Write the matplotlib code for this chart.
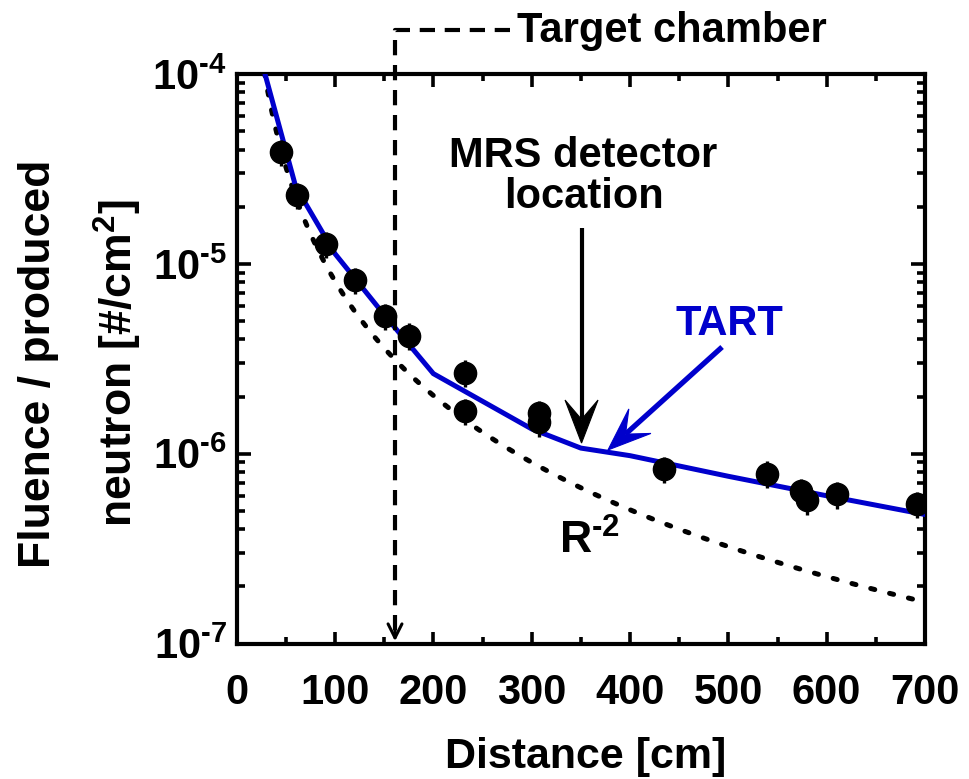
import numpy as np
import matplotlib
matplotlib.use('Agg')
import matplotlib.pyplot as plt
from matplotlib.patches import Polygon
from matplotlib.ticker import LogLocator, FixedLocator, FuncFormatter, NullFormatter
import matplotlib.transforms as mtransforms

# ---------------- data ----------------
dist_meas = [45.1, 61.0, 90.5, 120.6, 150.5, 175.5, 232.2, 232.2, 307.4, 307.4,
             434.6, 539.0, 573.9, 580.0, 610.2, 691.5]
fluence_meas = [3.89e-5, 2.31e-5, 1.27e-5, 8.24e-6, 5.33e-6, 4.18e-6, 2.67e-6, 1.68e-6,
                1.64e-6, 1.46e-6, 8.34e-7, 7.85e-7, 6.33e-7, 5.68e-7, 6.10e-7, 5.43e-7]
fluence_err = [6.2e-6, 3.7e-6, 2.0e-6, 1.3e-6, 8.5e-7, 6.7e-7, 4.3e-7, 2.7e-7,
               2.6e-7, 2.3e-7, 1.3e-7, 1.25e-7, 1.0e-7, 9.0e-8, 1.0e-7, 8.7e-8]

dist_tart = [25, 60, 100, 150, 200, 300, 350, 400, 500, 600, 700]
fluence_tart = [1.18e-4, 2.55e-5, 1.13e-5, 5.39e-6, 2.64e-6, 1.35e-6, 1.07e-6,
                9.76e-7, 7.6e-7, 6.0e-7, 4.78e-7]

r2_coeff = 0.081          # R^-2 reference curve: fluence = r2_coeff / R^2
r2_range = (25, 700)

target_chamber_cm = 161

x_ticks = [0, 100, 200, 300, 400, 500, 600, 700]
x_minor = [50, 150, 250, 350, 450, 550, 650]
y_lim = (1e-7, 1e-4)

# ---------------- style ----------------
plt.rcParams['font.family'] = ['Liberation Sans', 'DejaVu Sans']
plt.rcParams['font.weight'] = 'bold'
plt.rcParams['mathtext.fontset'] = 'custom'
plt.rcParams['mathtext.rm'] = 'Liberation Sans:bold'
plt.rcParams['mathtext.it'] = 'Liberation Sans:bold'
plt.rcParams['mathtext.bf'] = 'Liberation Sans:bold'
plt.rcParams['mathtext.sf'] = 'Liberation Sans:bold'
plt.rcParams['mathtext.default'] = 'rm'
plt.rcParams['lines.scale_dashes'] = False

FS = 30
BLUE = '#0000CC'

fig = plt.figure(figsize=(9.69, 7.79), dpi=100)
ax = fig.add_axes([0.24427, 0.17394, 0.71032, 0.73107])

# R^-2 curve
r = np.linspace(r2_range[0], r2_range[1], 400)
ax.plot(r, r2_coeff / r**2, color='black', lw=3.6, linestyle=(0, (3.0, 11.0)),
        dash_capstyle='round', zorder=2)

# TART
ax.plot(dist_tart, fluence_tart, color=BLUE, lw=3.6, zorder=3, solid_joinstyle='miter')

# measured points
ax.errorbar(dist_meas, fluence_meas, yerr=fluence_err, fmt='o', color='black',
            markersize=16, elinewidth=2.4, capsize=0, zorder=5)

ax.set_xlim(0, 700)
ax.set_yscale('log')
ax.set_ylim(*y_lim)


def log_label(v, pos):
    e = int(round(np.log10(v)))
    if e < 0:
        return r'$10^{\text{-}%d}$' % (-e)
    return r'$10^{%d}$' % e


# ticks
ax.xaxis.set_major_locator(FixedLocator(x_ticks))
ax.xaxis.set_minor_locator(FixedLocator(x_minor))
ax.yaxis.set_major_locator(LogLocator(base=10, numticks=10))
ax.yaxis.set_minor_locator(LogLocator(base=10, subs=np.arange(2, 10), numticks=20))
ax.yaxis.set_major_formatter(FuncFormatter(log_label))
ax.yaxis.set_minor_formatter(NullFormatter())
ax.tick_params(which='both', direction='in', top=True, right=True, width=2.6,
               labelsize=FS)
ax.tick_params(axis='x', which='major', length=9, pad=21)
ax.tick_params(axis='x', which='minor', length=5)
ax.tick_params(axis='y', which='major', length=10, pad=7)
ax.tick_params(axis='y', which='minor', length=6)
for s in ax.spines.values():
    s.set_linewidth(3.0)

# axis labels
fig.text(585.5 / 969, 11 / 779, 'Distance [cm]', ha='center', va='baseline', fontsize=FS + 1)
fig.text(50 / 969, (779 - 364) / 779, 'Fluence / produced', rotation=90,
         rotation_mode='anchor', ha='center', va='baseline', fontsize=FS + 2)
fig.text(133 / 969, (779 - 363) / 779, 'neutron [#/cm$^{2}$]', rotation=90,
         rotation_mode='anchor', ha='center', va='baseline', fontsize=FS + 2)

# target chamber dashed marker
blend = mtransforms.blended_transform_factory(ax.transData, ax.transAxes)
ax.plot([278, target_chamber_cm, target_chamber_cm], [1.0773, 1.0773, 0.01],
        transform=blend, color='black', lw=3.0, linestyle=(0, (11, 7)),
        clip_on=False, zorder=4)
ax.annotate('', xy=(target_chamber_cm, 0.004), xytext=(target_chamber_cm, 0.04),
            xycoords=blend, textcoords=blend,
            arrowprops=dict(arrowstyle='->,head_length=0.5,head_width=0.25',
                            lw=2.2, color='black', mutation_scale=20, shrinkA=0, shrinkB=0))
ax.text(0.4072, 1.0562, 'Target chamber', transform=ax.transAxes, ha='left',
        va='baseline', fontsize=FS)


def notched_arrow(tail, tip, color, lw, L=43.0, W=33.0, notch=0.55):
    T = ax.transAxes
    p0 = np.array(T.transform(tail))
    p1 = np.array(T.transform(tip))
    d = (p1 - p0) / np.linalg.norm(p1 - p0)
    n = np.array([-d[1], d[0]])
    back = p1 - L * d
    verts_px = np.array([p1, back + W / 2 * n, p1 - notch * L * d, back - W / 2 * n])
    verts = T.inverted().transform(verts_px)
    ax.add_patch(Polygon(verts, closed=True, transform=T, facecolor=color,
                         edgecolor=color, lw=0.8, clip_on=False, zorder=6))
    s_end = T.inverted().transform(p1 - notch * L * d)
    ax.plot([tail[0], s_end[0]], [tail[1], s_end[1]], transform=T, color=color,
            lw=lw, clip_on=False, solid_capstyle='butt', zorder=6)


# MRS detector annotation
ax.text(0.5038, 0.8367, 'MRS detector', transform=ax.transAxes, ha='center',
        va='baseline', fontsize=FS)
ax.text(0.5053, 0.7647, 'location', transform=ax.transAxes, ha='center',
        va='baseline', fontsize=FS)
notched_arrow((0.5010, 0.7296), (0.5010, 0.3520), 'black', 3.0)

# TART annotation
ax.text(0.716, 0.5417, 'TART', transform=ax.transAxes, ha='center', va='baseline',
        fontsize=FS, color=BLUE)
notched_arrow((0.7052, 0.5206), (0.5394, 0.3398), BLUE, 3.8)

# R^-2 label
ax.text(0.4683, 0.1572, r'R$^{\text{-}2}$', transform=ax.transAxes, ha='left', va='baseline',
        fontsize=FS + 2)

fig.savefig('out.png', dpi=100)
